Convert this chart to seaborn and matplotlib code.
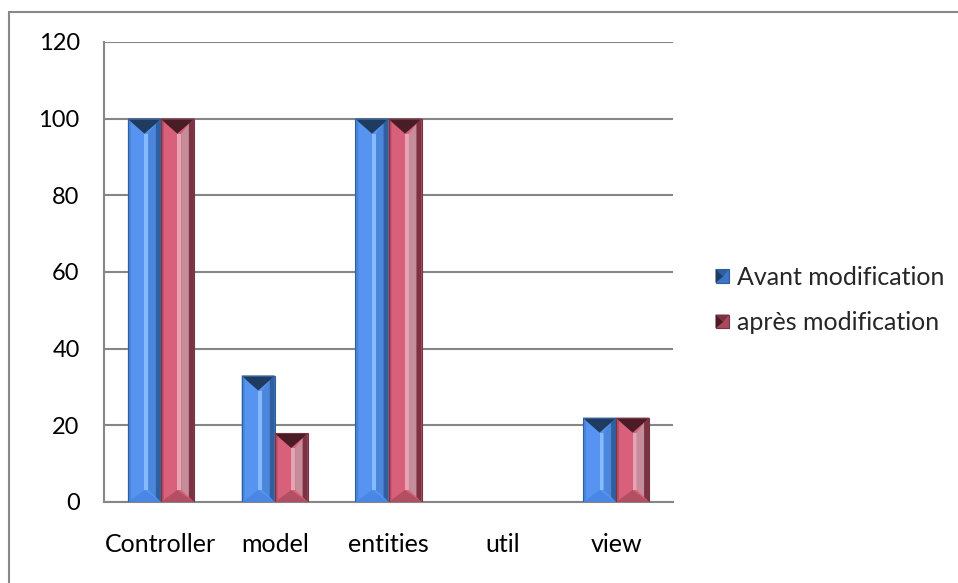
import matplotlib
matplotlib.use("Agg")
import matplotlib.pyplot as plt
import seaborn as sns
import pandas as pd
import numpy as np
from matplotlib.patches import Polygon, Rectangle
from matplotlib.lines import Line2D
from matplotlib.legend_handler import HandlerBase

categories = ["Controller", "model", "entities", "util", "view"]
avant = [100, 33, 100, 0, 22]
apres = [100, 18, 100, 0, 22]
series = ["Avant modification", "après modification"]
yticks = [0, 20, 40, 60, 80, 100, 120]

df = pd.DataFrame({
    "cat": categories * 2,
    "val": avant + apres,
    "serie": [series[0]] * len(categories) + [series[1]] * len(categories),
})

sns.set_style("white")
plt.rcParams["font.family"] = ["Lato", "DejaVu Sans"]
FS = 18

base = {series[0]: "#5794F2", series[1]: "#D9607A"}
shade = {
    series[0]: dict(top="#1F3C60", bottom="#4A86E4", left="#4A84DC", mid="#86BCFF",
                    right="#4C86DA", edge="#2F5F9F", leg="#3D74C6"),
    series[1]: dict(top="#4A1C25", bottom="#B24F62", left="#B94F63", mid="#E6A3B2",
                    right="#C58C9A", edge="#7A3343", leg="#A84A5C"),
}

fig = plt.figure(figsize=(9.58, 5.83), dpi=100)
ax = fig.add_axes([104 / 958, 1 - 502 / 583, (673 - 104) / 958, (502 - 42) / 583])

sns.barplot(data=df, x="cat", y="val", hue="serie", order=categories,
            hue_order=series, palette=base, width=0.58, ax=ax,
            edgecolor="none", linewidth=0, saturation=1, legend=False)

ax.set_xlim(-0.5, len(categories) - 0.5)
ax.set_ylim(0, 120)
ax.set_yticks(yticks)
ax.set_yticklabels([str(t) for t in yticks])
ax.set_xlabel("")
ax.set_ylabel("")
ax.yaxis.grid(True, color="#868686", linewidth=1.5)
ax.set_axisbelow(True)
for s in ["top", "right"]:
    ax.spines[s].set_visible(False)
for s in ["left", "bottom"]:
    ax.spines[s].set_color("#868686")
    ax.spines[s].set_linewidth(1.5)
ax.tick_params(axis="y", length=5.5, width=1.5, color="#868686", labelsize=17, pad=12,
               labelcolor="black")
ax.set_xticks(np.arange(-0.5, len(categories)), minor=True)
ax.tick_params(axis="x", which="minor", length=5.5, width=1.5, color="#868686")
ax.tick_params(axis="x", which="major", length=0, labelsize=FS, pad=22,
               labelcolor="black")

# bevel overlays derived from the seaborn bar patches
fig.canvas.draw()
T = ax.transData
Ti = T.inverted()
n = len(categories)
for i, p in enumerate(list(ax.patches)):
    h = p.get_height()
    if h <= 0:
        continue
    sname = series[0] if i < n else series[1]
    c = shade[sname]
    x0, w = p.get_x(), p.get_width()
    (X0, Y0) = T.transform((x0, 0))
    (X1, Y1) = T.transform((x0 + w, h))
    W = X1 - X0
    Xm = (X0 + X1) / 2
    b = 3.0

    def poly(pts, col, z=3, ec="none", lw=0):
        data_pts = Ti.transform(np.array(pts))
        ax.add_patch(Polygon(data_pts, closed=True, facecolor=col, edgecolor=ec,
                             linewidth=lw, zorder=z))

    poly([(X0, Y0), (X0 + b, Y0 + b), (X0 + b, Y1 - b), (X0, Y1)], c["left"])
    poly([(X0 + W * 0.50, Y0 + 12), (X0 + W * 0.62, Y0 + 12),
          (X0 + W * 0.62, Y1 - 15), (X0 + W * 0.50, Y1 - 15)], c["mid"])
    poly([(X0 + W * 0.62, Y0 + 12), (X1 - 5, Y0 + 5),
          (X1 - 5, Y1 - 5), (X0 + W * 0.62, Y1 - 15)], c["right"])
    poly([(X1 - 5, Y0 + 5), (X1, Y0), (X1, Y1), (X1 - 5, Y1 - 5)], c["edge"])
    poly([(X0, Y1), (X1, Y1), (X1 - 4, Y1 - 4), (Xm, Y1 - 15), (X0 + 4, Y1 - 4)], c["top"], 4)
    poly([(X0, Y0), (X1, Y0), (Xm, Y0 + 12)], c["bottom"], 4)
    poly([(X0, Y0), (X1, Y0), (X1, Y1), (X0, Y1)], "none", 5, ec=c["edge"], lw=0.8)


class BevelHandler(HandlerBase):
    def __init__(self, colors):
        super().__init__()
        self.c = colors

    def create_artists(self, legend, orig_handle, xdescent, ydescent, width, height,
                       fontsize, trans):
        c = self.c[orig_handle]
        s = min(width, height)
        x0, y0 = -xdescent, -ydescent + (height - s) / 2
        sq = Rectangle((x0, y0), s, s, facecolor=c["leg"], edgecolor=c["edge"],
                       linewidth=0.8, transform=trans)
        tri = Polygon([(x0, y0 + s), (x0 + s * 0.55, y0 + s * 0.45), (x0, y0)],
                      closed=True, facecolor=c["top"], edgecolor="none", transform=trans)
        tri2 = Polygon([(x0, y0 + s), (x0 + s, y0 + s), (x0 + s * 0.55, y0 + s * 0.45)],
                       closed=True, facecolor=c["edge"], edgecolor="none", transform=trans)
        return [sq, tri2, tri]


handles = [series[0], series[1]]
fig.legend(handles=handles, labels=series, loc="center left",
           bbox_to_anchor=(693 / 958, 1 - 300 / 583),
           handler_map={series[0]: BevelHandler(shade), series[1]: BevelHandler(shade)},
           frameon=False, fontsize=FS, handlelength=0.55, handleheight=0.55,
           handletextpad=0.3, labelspacing=0.9)

# outer chart frame (top and left visible)
fig.add_artist(Line2D([9 / 958, 9 / 958], [0, 1 - 12 / 583], transform=fig.transFigure,
                      color="#888888", linewidth=1.5))
fig.add_artist(Line2D([9 / 958, 1], [1 - 12 / 583, 1 - 12 / 583], transform=fig.transFigure,
                      color="#888888", linewidth=1.5))

fig.savefig("out.png", dpi=100)
